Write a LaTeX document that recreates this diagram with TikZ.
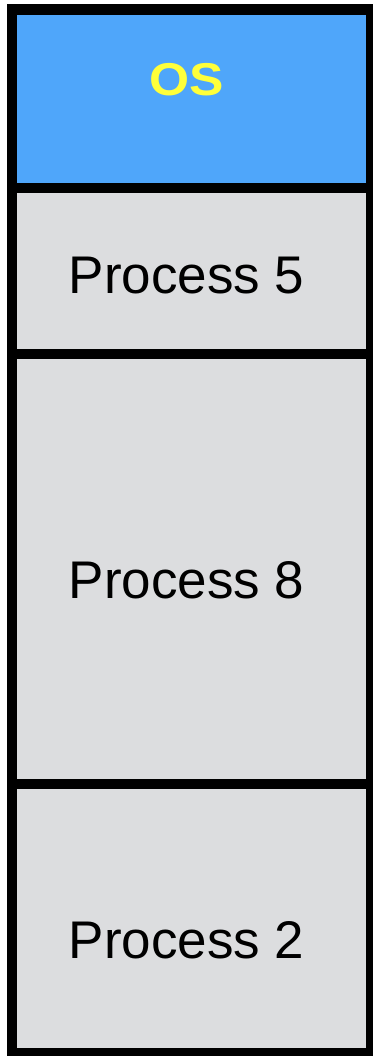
\documentclass[tikz,border=0pt]{standalone}
\usepackage{fontspec}
\setmainfont{Liberation Sans}
\definecolor{osblue}{HTML}{4FA6FA}
\definecolor{procgray}{HTML}{DCDDDF}
\definecolor{osyellow}{HTML}{FFFF3A}
\begin{document}
\begin{tikzpicture}[x=1pt,y=-1pt,
  seg/.style={draw=black,line width=10.7pt},
  lbl/.style={inner sep=0pt,anchor=base,font=\fontsize{53}{60}\selectfont},
  oslbl/.style={inner sep=0pt,anchor=base,text=osyellow,font=\fontsize{46}{52}\selectfont\bfseries}]
\useasboundingbox (0,0) rectangle (372,1056);
\path[seg,fill=osblue] (12,9.7) rectangle (371.3,188);
\path[seg,fill=procgray] (12,188) rectangle (371.3,354);
\path[seg,fill=procgray] (12,354) rectangle (371.3,784);
\path[seg,fill=procgray] (12,784) rectangle (371.3,1053.3);
\node[oslbl] (os) at (186.7,95.7) {\scalebox{1.12}[1]{OS}};
\node[lbl] (p5) at (186.7,293.3) {Process 5};
\node[lbl] (p8) at (186.7,598.3) {Process 8};
\node[lbl] (p2) at (186.7,958.3) {Process 2};
\end{tikzpicture}
\end{document}
